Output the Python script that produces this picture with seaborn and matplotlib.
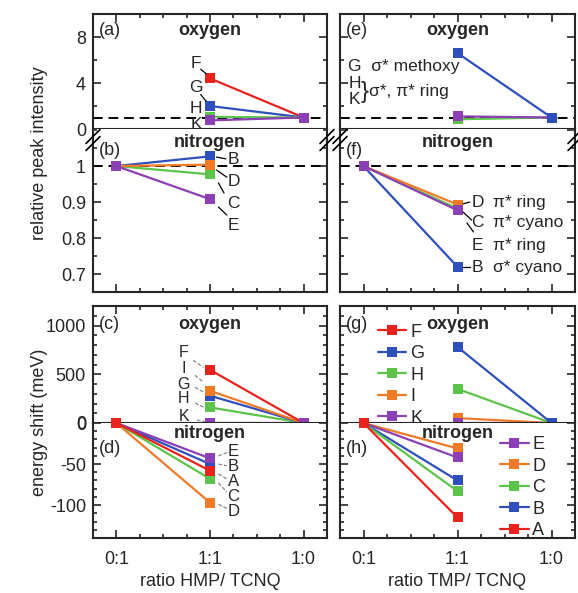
import numpy as np
import pandas as pd
import matplotlib
matplotlib.use("Agg")
import matplotlib.pyplot as plt
from matplotlib.lines import Line2D
from matplotlib.ticker import MultipleLocator
import seaborn as sns

sns.set_style("ticks")
plt.rcParams['font.family'] = ['Liberation Sans', 'DejaVu Sans']
plt.rcParams['axes.unicode_minus'] = False

# x positions and tick labels
ratio_labels = ["0:1", "1:1", "1:0"]
x_oxy = [1, 2]      # oxygen curves: 1:1 -> 1:0
x_nit = [0, 1]      # nitrogen curves: 0:1 -> 1:1

# relative peak intensity, oxygen (HMP / TMP)
int_oxy_hmp = {"F": [4.4, 1.0], "G": [2.0, 1.0], "H": [1.05, 1.0], "K": [0.75, 1.0]}
int_oxy_tmp = {"H": [0.85, 1.0], "K": [1.1, 1.0], "G": [6.6, 1.0]}
# relative peak intensity, nitrogen
int_nit_hmp = {"B": [1.0, 1.027], "C": [1.0, 0.977], "D": [1.0, 1.004], "E": [1.0, 0.908]}
int_nit_tmp = {"B": [1.0, 0.72], "C": [1.0, 0.882], "D": [1.0, 0.893], "E": [1.0, 0.877]}
# energy shift (meV), oxygen
sh_oxy_hmp = {"H": [160, 0], "G": [280, 0], "I": [330, 0], "F": [545, 0], "K": [0, 0]}
sh_oxy_tmp = {"I": [50, 0], "H": [350, 0], "K": [0, 0], "G": [780, 0]}
# energy shift (meV), nitrogen
sh_nit_hmp = {"D": [0, -97], "C": [0, -68], "B": [0, -50], "E": [0, -43], "A": [0, -58]}
sh_nit_tmp = {"D": [0, -31], "E": [0, -42], "B": [0, -70], "C": [0, -83], "A": [0, -115]}

pal = {"A": "#e8231e", "B": "#2f4fbd", "C": "#5cc44a", "D": "#f07a26", "E": "#8b40b5",
       "F": "#e8231e", "G": "#2f4fbd", "H": "#5cc44a", "I": "#f07a26", "K": "#8b40b5"}

W, H = 578, 593
fig = plt.figure(figsize=(W / 100, H / 100), dpi=100)


def px_rect(x0, x1, top, bot):
    return [x0 / W, 1 - bot / H, (x1 - x0) / W, (bot - top) / H]


cols = [(93, 327), (340, 575)]
rows = [(14, 129), (129, 292), (306, 423), (423, 538)]
axes = [[fig.add_axes(px_rect(c[0], c[1], r[0], r[1])) for c in cols] for r in rows]


def draw(ax, xs, series):
    recs = []
    for k, vals in series.items():
        for xv, yv in zip(xs, vals):
            recs.append({"x": xv, "y": yv, "s": k})
    df = pd.DataFrame(recs)
    sns.lineplot(data=df, x="x", y="y", hue="s", hue_order=list(series.keys()),
                 palette=pal, marker="s", markersize=7.5, markeredgewidth=0,
                 lw=1.6, legend=False, ax=ax, clip_on=False, estimator=None, sort=False)
    ax.set(xlabel="", ylabel="")


data = [[int_oxy_hmp, int_oxy_tmp], [int_nit_hmp, int_nit_tmp],
        [sh_oxy_hmp, sh_oxy_tmp], [sh_nit_hmp, sh_nit_tmp]]
xsets = [x_oxy, x_nit, x_oxy, x_nit]
ylims = [(0, 10), (0.65, 1.103), (0, 1200), (-140, 0)]
majors = [4, 0.1, 500, 50]
minors = [2, 0.05, 100, 10]

for r in range(4):
    for c in range(2):
        ax = axes[r][c]
        draw(ax, xsets[r], data[r][c])
        ax.set_xlim(-0.25, 2.25)
        ax.set_ylim(*ylims[r])
        ax.xaxis.set_major_locator(MultipleLocator(1))
        ax.xaxis.set_minor_locator(MultipleLocator(0.25))
        ax.yaxis.set_major_locator(MultipleLocator(majors[r]))
        ax.yaxis.set_minor_locator(MultipleLocator(minors[r]))
        ax.tick_params(which="both", direction="in", top=True, right=True, width=1.2,
                       labelsize=13)
        ax.tick_params(axis="y", pad=5)
        ax.tick_params(axis="x", pad=9)
        ax.tick_params(which="major", length=6)
        ax.tick_params(which="minor", length=3)
        for s in ax.spines.values():
            s.set_linewidth(1.5)
        if r in (0, 2):
            ax.tick_params(which="both", bottom=False)
        if r in (1, 3):
            ax.tick_params(which="both", top=False)
            ax.spines["top"].set_visible(False)
        if r == 3:
            ax.set_xticks([0, 1, 2])
            ax.set_xticklabels(ratio_labels)
        else:
            ax.tick_params(labelbottom=False)
        if c == 1:
            ax.tick_params(labelleft=False)
        if r < 2:
            ax.axhline(1, color="k", ls=(0, (5, 3)), lw=1.4, zorder=1)

axes[1][0].set_yticks([0.7, 0.8, 0.9, 1.0])
axes[1][0].set_yticklabels(["0.7", "0.8", "0.9", "1"])

# panel letters and titles
letters = [["(a)", "(e)"], ["(b)", "(f)"], ["(c)", "(g)"], ["(d)", "(h)"]]
titles = ["oxygen", "nitrogen", "oxygen", "nitrogen"]
title_y = [0.86, 0.915, 0.84, 0.905]
letter_y = [0.86, 0.87, 0.84, 0.78]
for r in range(4):
    for c in range(2):
        ax = axes[r][c]
        ax.text(0.025, letter_y[r], letters[r][c], transform=ax.transAxes, fontsize=13,
                ha="left", va="center")
        ax.text(0.5, title_y[r], titles[r], transform=ax.transAxes, fontsize=13,
                fontweight="bold", ha="center", va="center")

lbl = dict(fontsize=12.5, ha="center", va="center")
lead = dict(color="k", lw=0.9)

# (a)
ax = axes[0][0]
for t, yt in zip("FGHK", [5.7, 3.6, 1.8, 0.4]):
    ax.text(0.85, yt, t, **lbl)
ax.plot([0.9, 0.96], [5.2, 4.8], **lead)
ax.plot([0.9, 0.96], [3.0, 2.4], **lead)

# (b)
ax = axes[1][0]
for t, yt in zip("BDCE", [1.017, 0.958, 0.897, 0.836]):
    ax.text(1.25, yt, t, **lbl)
ax.plot([1.07, 1.17], [1.025, 1.02], **lead)
ax.plot([1.07, 1.18], [0.989, 0.969], **lead)
ax.plot([1.09, 1.15], [0.953, 0.925], **lead)
ax.plot([1.09, 1.18], [0.886, 0.864], **lead)

# (e)
ax = axes[0][1]
ax.text(-0.16, 5.4, "G  σ* methoxy", fontsize=12.5, ha="left", va="center")
ax.text(-0.16, 4.0, "H", fontsize=12.5, ha="left", va="center")
ax.text(-0.16, 2.6, "K", fontsize=12.5, ha="left", va="center")
ax.text(-0.03, 3.25, "}", fontsize=17, ha="left", va="center")
ax.text(0.06, 3.3, "σ*, π* ring", fontsize=12.5, ha="left", va="center")

# (f)
ax = axes[1][1]
for t, yt, d in zip("DCEB", [0.9, 0.842, 0.78, 0.719],
                    ["π* ring", "π* cyano", "π* ring", "σ* cyano"]):
    ax.text(1.15, yt, t, fontsize=12.5, ha="left", va="center")
    ax.text(1.38, yt, d, fontsize=12.5, ha="left", va="center")
ax.plot([1.06, 1.13], [0.895, 0.9], **lead)
ax.plot([1.06, 1.15], [0.872, 0.85], **lead)
ax.plot([1.10, 1.17], [0.842, 0.817], **lead)
ax.plot([1.06, 1.13], [0.72, 0.72], **lead)

# (c)
ax = axes[2][0]
glead = dict(color="#888888", lw=0.9, ls=(0, (3, 1.5)))
for t, yt in zip("FIGHK", [724, 561, 396, 247, 71]):
    ax.text(0.72, yt, t, fontsize=11.5, ha="center", va="center")
ax.plot([0.82, 0.93], [643, 571], **glead)
ax.plot([0.84, 0.93], [490, 418], **glead)
ax.plot([0.84, 0.93], [367, 316], **glead)
ax.plot([0.84, 0.93], [204, 163], **glead)
ax.plot([0.86, 0.97], [31, 10], **glead)

# (d)
ax = axes[3][0]
for t, yt in zip("EBACD", [-35, -53, -71, -89, -108]):
    ax.text(1.25, yt, t, fontsize=12, ha="center", va="center")
ax.plot([1.09, 1.18], [-40, -36], **glead)
ax.plot([1.09, 1.18], [-50, -52], **glead)
ax.plot([1.09, 1.18], [-62, -68], **glead)
ax.plot([1.09, 1.18], [-73, -84], **glead)
ax.plot([1.09, 1.18], [-99, -104], **glead)


def handles(keys):
    return [Line2D([], [], color=pal[k], marker="s", markersize=7.5, markeredgewidth=0,
                   lw=1.6, label=k) for k in keys]


legkw = dict(frameon=False, fontsize=13, handlelength=1.6, handletextpad=0.2,
             labelspacing=0.25, borderaxespad=0, borderpad=0)
axes[2][1].legend(handles=handles("FGHIK"), loc="upper left",
                  bbox_to_anchor=(0.16, 0.85), **legkw)
axes[3][1].legend(handles=handles("EDCBA"), loc="upper left",
                  bbox_to_anchor=(0.68, 0.885), **legkw)

# axis break marks between (a)/(b) and (e)/(f)
for xp in (93, 327, 340, 575):
    for d in (-3.5, 3.5):
        fig.add_artist(Line2D([(xp - 7) / W, (xp + 7) / W],
                              [1 - (147 + d) / H, 1 - (133 + d) / H],
                              color="k", lw=1.2))

fig.text(40 / W, 1 - 153 / H, "relative peak intensity", rotation=90, fontsize=13,
         ha="center", va="center")
fig.text(40 / W, 1 - 422 / H, "energy shift (meV)", rotation=90, fontsize=13,
         ha="center", va="center")
fig.text(210 / W, 1 - 582 / H, "ratio HMP/ TCNQ", fontsize=13, ha="center", va="center")
fig.text(457 / W, 1 - 582 / H, "ratio TMP/ TCNQ", fontsize=13, ha="center", va="center")

fig.savefig("out.png", dpi=100)
